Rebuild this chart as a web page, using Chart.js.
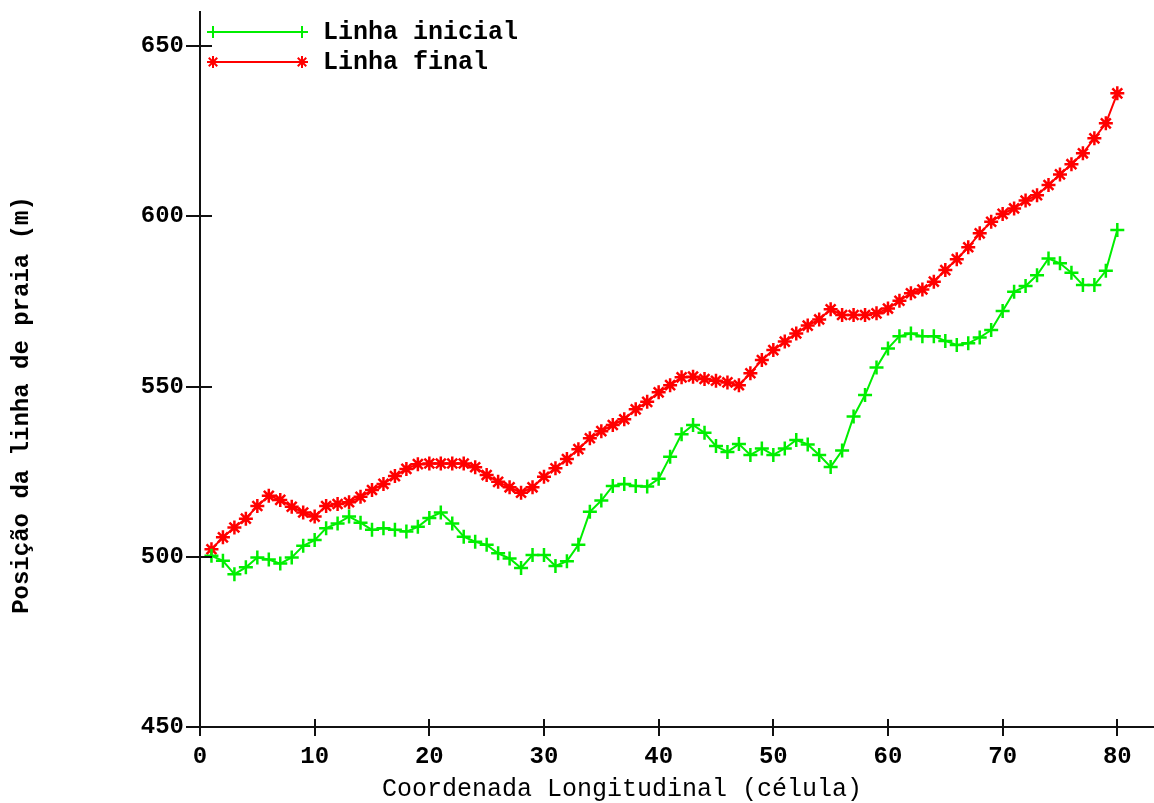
<!DOCTYPE html>
<html>
<head>
<meta charset="utf-8">
<script src="https://cdn.jsdelivr.net/npm/chart.js@4/dist/chart.umd.min.js"></script>
<style>
  html, body { margin: 0; padding: 0; background: #fff; }
  #wrap { width: 1154px; height: 803px; }
</style>
</head>
<body>
<div id="wrap"><canvas id="praia"></canvas></div>
<script>
// shoreline position per cell, initial and final runs
const linhaInicial = [
  500.3, 498.8, 494.9, 496.9, 499.8, 499.2, 498.0, 499.8, 503.2, 504.9,
  508.4, 509.8, 511.8, 510.0, 507.9, 508.4, 507.9, 507.4, 508.8, 511.4,
  513.0, 509.8, 505.9, 504.4, 503.5, 501.0, 499.5, 496.7, 500.5, 500.5,
  497.3, 498.7, 503.5, 513.2, 516.5, 520.8, 521.4, 520.8, 520.6, 522.9,
  529.4, 536.0, 538.7, 536.4, 532.5, 530.8, 533.1, 529.9, 531.8, 529.9,
  531.8, 534.3, 533.0, 529.9, 526.4, 531.2, 541.2, 547.5, 555.6, 561.2,
  564.8, 565.6, 564.8, 564.8, 563.4, 562.2, 562.7, 564.4, 566.6, 572.2,
  577.8, 579.5, 582.7, 587.6, 586.2, 583.4, 579.8, 579.8, 584.0, 596.0
];
const linhaFinal = [
  502.2, 505.7, 508.6, 511.2, 514.9, 517.9, 516.7, 514.7, 513.0, 511.8,
  514.9, 515.5, 516.0, 517.6, 519.6, 521.4, 523.7, 525.8, 527.2, 527.4,
  527.4, 527.4, 527.4, 526.3, 524.0, 522.0, 520.4, 518.8, 520.4, 523.5,
  526.0, 528.7, 531.6, 534.8, 536.9, 538.7, 540.4, 543.3, 545.5, 548.3,
  550.4, 552.7, 552.9, 552.2, 551.7, 551.2, 550.4, 553.9, 557.8, 560.7,
  563.2, 565.6, 567.9, 569.7, 572.7, 571.0, 571.0, 571.0, 571.5, 572.9,
  575.2, 577.4, 578.5, 580.8, 584.2, 587.4, 590.9, 595.0, 598.4, 600.7,
  602.3, 604.6, 606.2, 609.2, 612.3, 615.3, 618.5, 622.9, 627.3, 636.1
];
// cell numbers 1..80
const celulas = linhaInicial.map((_, i) => i + 1);
const ticksX = [0, 10, 20, 30, 40, 50, 60, 70, 80];
const ticksY = [450, 500, 550, 600, 650];

const FONT = '"Liberation Mono", "DejaVu Sans Mono", monospace';

function pontos(valores) {
  return celulas.map((c, i) => ({ x: c, y: valores[i] }));
}

// tick marks crossing the axes, axis titles and the legend box
const moldura = {
  id: 'moldura',
  afterDraw(chart) {
    const { ctx, chartArea: a, scales: { x, y } } = chart;
    ctx.save();
    ctx.strokeStyle = '#111';
    ctx.lineWidth = 2;
    ctx.beginPath();
    ticksY.forEach(v => {
      const py = Math.round(y.getPixelForValue(v));
      ctx.moveTo(a.left - 14, py);
      ctx.lineTo(a.left + 12, py);
    });
    ticksX.forEach(v => {
      const px = Math.round(x.getPixelForValue(v));
      ctx.moveTo(px, a.bottom - 8);
      ctx.lineTo(px, a.bottom + 9);
    });
    ctx.stroke();

    ctx.fillStyle = '#000';
    ctx.textBaseline = 'middle';
    ctx.textAlign = 'center';
    ctx.font = '25px ' + FONT;
    ctx.fillText('Coordenada Longitudinal (célula)', 622, 789);

    ctx.save();
    ctx.translate(22, 405);
    ctx.rotate(-Math.PI / 2);
    ctx.font = 'bold 24px ' + FONT;
    ctx.fillText('Posição da linha de praia (m)', 0, 0);
    ctx.restore();

    // legend
    ctx.textAlign = 'left';
    ctx.font = 'bold 25px ' + FONT;
    chart.data.datasets.forEach((ds, i) => {
      const ly = 32 + i * 30;
      ctx.strokeStyle = ds.borderColor;
      ctx.fillStyle = ds.borderColor;
      ctx.lineWidth = 2;
      ctx.beginPath();
      ctx.moveTo(213, ly);
      ctx.lineTo(302, ly);
      ctx.stroke();
      [213, 302].forEach(px => {
        Chart.helpers.drawPoint(ctx, {
          pointStyle: ds.pointStyle, radius: 6, borderWidth: 2, rotation: 0
        }, px, ly);
      });
      ctx.fillStyle = '#000';
      ctx.fillText(ds.label, 323, ly + 1);
    });
    ctx.restore();
  }
};

// keep the plot box fixed: no extra room for overflowing tick labels
function semFolga(s) {
  s.paddingTop = 0;
  s.paddingBottom = 0;
  s.paddingLeft = 0;
  s.paddingRight = 0;
}

new Chart(document.getElementById('praia'), {
  type: 'line',
  data: {
    datasets: [{
      label: 'Linha inicial',
      data: pontos(linhaInicial),
      borderColor: '#00ee00',
      backgroundColor: '#00ee00',
      borderWidth: 2,
      pointStyle: 'cross',
      pointRadius: 7,
      pointBorderWidth: 2.5,
      tension: 0
    }, {
      label: 'Linha final',
      data: pontos(linhaFinal),
      borderColor: '#ff0000',
      backgroundColor: '#ff0000',
      borderWidth: 2,
      pointStyle: 'star',
      pointRadius: 7,
      pointBorderWidth: 2.5,
      tension: 0
    }]
  },
  options: {
    responsive: true,
    maintainAspectRatio: false,
    animation: false,
    layout: { autoPadding: false, padding: { top: 12, right: 0, left: 0, bottom: 0 } },
    plugins: {
      legend: { display: false },
      tooltip: { enabled: false }
    },
    scales: {
      x: {
        type: 'linear',
        min: 0,
        max: 83.2,
        afterFit: s => { s.height = 76; semFolga(s); },
        afterBuildTicks: s => { s.ticks = ticksX.map(v => ({ value: v })); },
        grid: { display: false, drawTicks: false },
        border: { display: true, color: '#111', width: 2 },
        ticks: { color: '#000', padding: 16, maxRotation: 0, font: { family: FONT, size: 24, weight: 'bold' } }
      },
      y: {
        type: 'linear',
        min: 450,
        max: 660,
        afterFit: s => { s.width = 200; semFolga(s); },
        afterBuildTicks: s => { s.ticks = ticksY.map(v => ({ value: v })); },
        grid: { display: false, drawTicks: false },
        border: { display: true, color: '#111', width: 2 },
        ticks: { color: '#000', padding: 16, font: { family: FONT, size: 24, weight: 'bold' } }
      }
    }
  },
  plugins: [moldura]
});
</script>
</body>
</html>
